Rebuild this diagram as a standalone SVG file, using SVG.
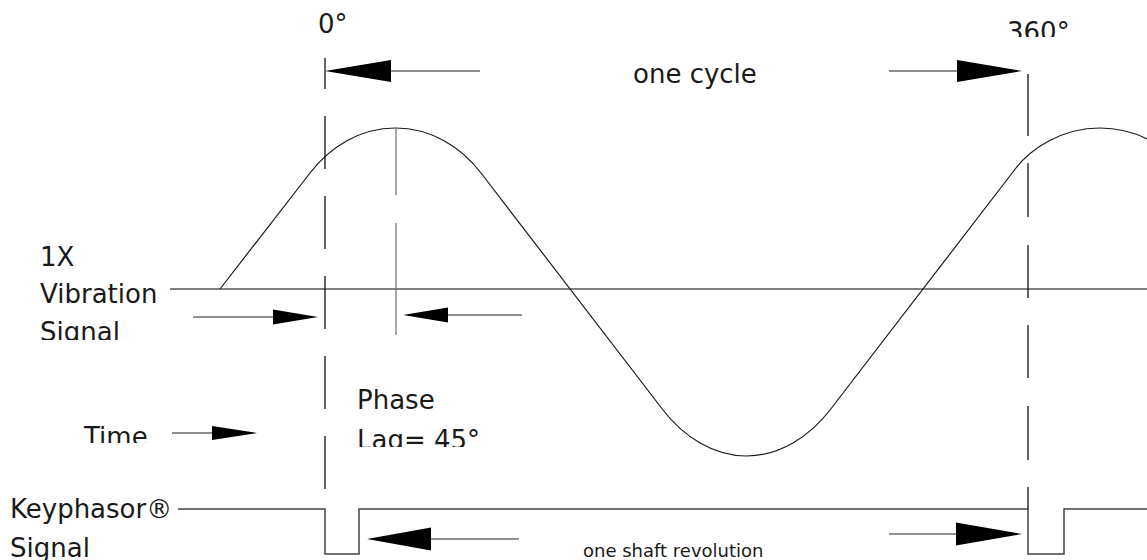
<svg xmlns="http://www.w3.org/2000/svg" width="1147" height="560" viewBox="0 0 1147 560">
<style>
  .t { font-family: "DejaVu Sans", "Liberation Sans", sans-serif; font-size: 26px; fill: #1a1a1a; }
  .ts { font-family: "DejaVu Sans", "Liberation Sans", sans-serif; font-size: 18px; fill: #1a1a1a; }
  .wave { fill: none; stroke: #1a1a1a; stroke-width: 1.2; stroke-linejoin: round; }
  .base { fill: none; stroke: #555; stroke-width: 1.7; }
  .kp { fill: none; stroke: #444; stroke-width: 1.5; }
  .dash { fill: none; stroke: #111; stroke-width: 1.3; }
  .ref { fill: none; stroke: #777; stroke-width: 1.3; }
  .al { fill: none; stroke: #222; stroke-width: 1.2; }
  .ah { fill: #000; stroke: none; }
</style>
<defs>
  <clipPath id="c360"><rect x="990" y="0" width="100" height="37"/></clipPath>
  <clipPath id="cSig1"><rect x="30" y="310" width="140" height="30"/></clipPath>
  <clipPath id="cTime"><rect x="70" y="410" width="90" height="33"/></clipPath>
  <clipPath id="cLag"><rect x="340" y="420" width="160" height="27"/></clipPath>
</defs>
<rect width="1147" height="560" fill="#fff"/>

<g id="baseline">
  <line class="base" x1="170" y1="289" x2="1147" y2="289"/>
</g>

<g id="vibration-wave">
  <path class="wave" d="M220,289 L310,173 C330,147 360,128 395.5,128 C431,128 461,147 481,173 L663,410 C683,436 713,456 746.5,456 C780,456 810,436 830,410 L1016,168 C1030,150 1060,128 1100,128 C1140,128 1170,150 1184,168"/>
</g>

<g id="keyphasor-wave">
  <polyline class="kp" points="178,509 325,509 325,554 359,554 359,509 1028,509 1028,554 1064,554 1064,509 1147,509"/>
</g>

<g id="connectors">
  <line class="dash" x1="325" y1="58" x2="325" y2="491" stroke-dasharray="31 27 53 27 53 27 53 27 53 27 53 27"/>
  <line class="dash" x1="1028" y1="74" x2="1028" y2="509" stroke-dasharray="62 27 54 28 53 27 53 28 54 27 30 0"/>
  <line class="ref" x1="396" y1="128" x2="396" y2="195"/>
  <line class="ref" x1="396" y1="223" x2="396" y2="335"/>

  <line class="al" x1="391" y1="71" x2="480" y2="71"/>
  <polygon class="ah" points="325,71 391,60 391,82"/>
  <line class="al" x1="889" y1="71" x2="957" y2="71"/>
  <polygon class="ah" points="1022,71 957,60 957,82"/>

  <line class="al" x1="193" y1="317" x2="273" y2="317"/>
  <polygon class="ah" points="318,317 273,309.5 273,324.5"/>
  <line class="al" x1="448" y1="315" x2="522" y2="315"/>
  <polygon class="ah" points="403,315 448,307.5 448,322.5"/>

  <line class="al" x1="172" y1="433" x2="212" y2="433"/>
  <polygon class="ah" points="257,433 212,426 212,440"/>

  <line class="al" x1="431" y1="539" x2="519" y2="539"/>
  <polygon class="ah" points="367,539 431,527.5 431,550.5"/>
  <line class="al" x1="889" y1="534" x2="956" y2="534"/>
  <polygon class="ah" points="1022,534 956,522.5 956,545.5"/>
</g>

<g id="label-0deg"><text class="t" x="318" y="33">0°</text></g>
<g id="label-360deg"><text class="t" x="1007" y="41" clip-path="url(#c360)">360°</text></g>
<g id="label-one-cycle"><text class="t" x="633" y="83">one cycle</text></g>
<g id="label-vibration">
  <text class="t" x="40" y="266">1X</text>
  <text class="t" x="40" y="303">Vibration</text>
  <text class="t" x="40" y="341" clip-path="url(#cSig1)">Signal</text>
</g>
<g id="label-time"><text class="t" x="84" y="446" clip-path="url(#cTime)">Time</text></g>
<g id="label-phase">
  <text class="t" x="357" y="409">Phase</text>
  <text class="t" x="357" y="449" clip-path="url(#cLag)">Lag= 45°</text>
</g>
<g id="label-keyphasor">
  <text class="t" x="10" y="518">Keyphasor®</text>
  <text class="t" x="10" y="557">Signal</text>
</g>
<g id="label-shaft"><text class="ts" x="583" y="557">one shaft revolution</text></g>
</svg>
